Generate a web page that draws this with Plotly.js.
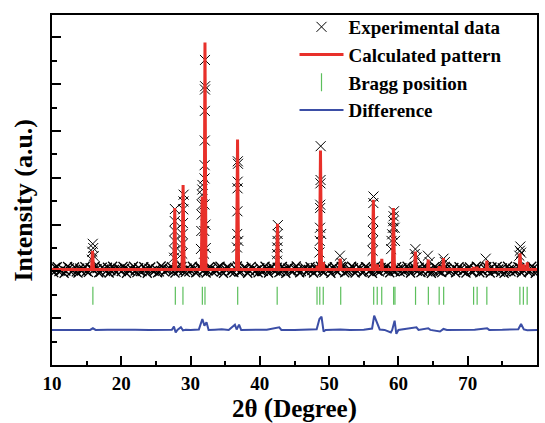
<!DOCTYPE html>
<html>
<head>
<meta charset="utf-8">
<script src="https://cdn.plot.ly/plotly-3.0.1.min.js"></script>
<style>html,body{margin:0;padding:0;background:#fff;}#chart{width:545px;height:423px;}</style>
</head>
<body>
<div id="chart"></div>
<script>
// ---- Experimental data: peak points (X markers) ----
const expPeakX = [15.75,15.82,15.88,15.95,16.02,
  27.62,27.66,27.68,27.70,27.72,27.74,
  28.80,28.84,28.86,28.90,28.94,28.97,29.00,
  31.50,31.55,31.60,31.63,31.66,31.70,31.72,
  31.95,31.98,32.00,32.02,32.03,32.05,32.06,32.08,32.10,32.08,32.15,32.20,
  36.70,36.73,36.76,36.78,36.80,36.82,36.84,36.90,
  42.48,42.50,42.52,42.55,42.57,42.60,
  48.60,48.65,48.68,48.70,48.72,48.74,48.76,48.78,48.85,
  51.55,51.80,
  56.28,56.30,56.33,56.35,56.38,56.40,
  58.95,59.00,59.10,59.20,59.25,59.30,59.35,59.45,59.50,
  62.35,62.45,62.60,
  64.25,64.50,
  66.50,66.70,
  72.60,
  77.45,77.52,77.60,77.70];
const expPeakY = [1250,1420,1590,1500,1330,
  1293,1441,1652,1864,2075,2333,
  1378,1588,1800,2032,2327,2496,2640,
  1480,1864,2215,2426,2640,2750,2848,
  1378,1864,2430,2987,3270,3797,4430,4887,4958,5519,2000,1500,
  1511,1800,2285,2776,2918,3354,3300,1652,
  1230,1371,1511,1652,1800,1990,
  1405,1652,1933,2354,2426,2882,2954,3677,1800,
  1336,1180,
  1441,1652,1864,2074,2461,2601,
  1477,1652,1793,1933,2074,2179,2285,1933,1652,
  1371,1477,1300,
  1336,1200,
  1272,1200,
  1272,
  1336,1441,1532,1400];

// ---- Experimental data: background, read every 0.5 degree from 10 to 80 (two interleaved rows) ----
const bgStart = 10, bgStep = 0.5;
const bgY = [1040,1085,995,1060,1010,1075,1020,990,1070,1045,1005,1080,1030,1060,985,1050,1090,1015,1040,1065,
  1000,1070,1035,1055,1010,1080,995,1045,1065,1020,1050,990,1075,1030,1060,1005,1085,1040,1015,1070,
  1025,1055,995,1080,1040,1010,1065,1035,1090,1000,1050,1075,1020,1060,985,1045,1070,1015,1055,1030,
  1080,1005,1050,1065,1025,1090,1000,1045,1070,1010,1060,1035,995,1075,1040,1020,1085,1050,1005,1065,
  1030,1070,1015,1055,1095,1000,1045,1080,1020,1060,990,1075,1035,1050,1010,1085,1040,1025,1065,1000,
  1055,1080,1015,1045,1070,1030,1090,1005,1060,1040,1020,1075,995,1050,1065,1010,1085,1035,1055,1025,
  1070,1000,1045,1080,1020,1060,1035,1095,1010,1050,1075,990,1040,1065,1015,1085,1030,1055,1005,1070,
  1045];
const bgY2 = [975,1100,1010,960,1105,990,1095,965,1010,1100,980,1060,1115,970,1090,1000,965,1110,985,1050,
  1105,960,1020,1110,975,1000,1100,960,1095,1005,970,1115,990,1040,1100,965,1010,1105,980,990,
  1110,970,1095,1005,965,1100,985,1020,1110,960,1090,1000,975,1115,990,1080,960,1105,995,970,
  1000,1110,965,1095,1010,975,1105,960,1090,1000,1115,970,1060,985,1100,965,1020,1110,980,1095,
  960,1100,990,1105,970,1015,1110,965,1095,980,1100,1000,960,1115,990,1045,1105,970,1010,1100,
  985,1000,1110,965,1095,1005,975,1115,990,960,1100,1010,975,1105,985,1040,970,1100,1010,965,
  1095,985,1110,970,1000,1100,965,1015,1105,980,960,1110,990,1000,1100,970,1095,985,1110,960];
const bgX = bgY.map((_, i) => bgStart + i * bgStep);
const bgX2 = bgY2.map((_, i) => bgStart + bgStep / 2 + i * bgStep);

// ---- Calculated pattern ----
const calcX = [10,
  15.70,15.85,16.00, 27.57,27.72,27.87, 28.77,28.92,29.07, 31.55,31.68,31.85, 31.95,32.08,32.22,
  36.63,36.78,36.93, 42.40,42.55,42.70, 48.18,48.30,48.42, 48.60,48.75,48.90, 49.05,49.15,49.25,
  51.47,51.60,51.73, 56.23,56.38,56.53, 56.85,56.95,57.05, 57.50,57.60,57.70, 59.13,59.28,59.43,
  62.32,62.45,62.58, 64.20,64.30,64.40, 65.80,65.90,66.00, 66.38,66.50,66.62, 70.77,70.85,70.93,
  71.27,71.35,71.43, 72.66,72.76,72.86, 77.42,77.55,77.68, 77.95,78.05,78.15, 78.50,78.60,78.70,
  80];
const calcY = [1040,
  1040,1441,1040, 1040,2354,1040, 1040,2848,1040, 1040,2600,1040, 1040,5892,1040,
  1040,3819,1040, 1040,2017,1040, 1040,1120,1040, 1040,3586,1040, 1040,1200,1040,
  1040,1272,1040, 1040,2532,1040, 1040,1150,1040, 1040,1270,1040, 1040,2354,1040,
  1040,1426,1040, 1040,1250,1040, 1040,1110,1040, 1040,1287,1040, 1040,1090,1040,
  1040,1100,1040, 1040,1230,1040, 1040,1384,1040, 1040,1150,1040, 1040,1194,1040,
  1040];

// ---- Bragg positions ----
const braggX = [15.9,27.8,28.9,31.7,32.08,36.8,42.5,48.25,48.65,49.15,51.67,56.43,56.94,57.59,
  59.31,59.5,62.47,64.32,65.88,66.53,70.85,71.36,72.76,77.53,78.03,78.58];
const braggLevel = 480;

// ---- Difference ----
const diffX = [10,12,14,15.5,15.9,16.3,18,20,22,24,26,27.3,27.6,27.85,28.1,28.6,28.9,29.3,30,31.2,
  31.7,32.0,32.3,32.6,33.5,34.5,35.5,36.4,36.65,37.0,37.3,39,41,42.8,43.1,45,47,48.2,48.6,48.9,
  49.2,49.5,51.6,53,55,56.2,56.5,56.9,57.3,58,58.9,59.1,59.45,59.7,60.0,62.6,62.9,64.3,64.6,66.0,
  66.5,67,69,71,72.8,73.1,75,77.3,77.7,78.1,78.6,80];
const diffY = [-250,-245,-255,-250,-215,-250,-248,-255,-248,-252,-250,-248,-180,-306,-250,-194,-260,-245,-250,-240,
  -18,-158,-88,-250,-245,-238,-250,-137,-240,-137,-250,-252,-248,-194,-250,-250,-245,-235,-18,31,
  -285,-250,-240,-250,-248,-220,53,-88,-240,-250,-306,-250,-53,-334,-250,-194,-250,-215,-250,-285,
  -229,-250,-250,-245,-215,-250,-248,-235,-123,-240,-255,-250];

const xTickVals = [10,20,30,40,50,60,70,80];

const serif = 'Liberation Serif, Times New Roman, serif';
const bgMarker = {symbol: 'x-thin-open', size: 9, color: '#000', line: {width: 1.3, color: '#000'}};

const traces = [
  {x: bgX, y: bgY, type: 'scatter', mode: 'markers', showlegend: false, hoverinfo: 'skip', marker: bgMarker},
  {x: bgX2, y: bgY2, type: 'scatter', mode: 'markers', showlegend: false, hoverinfo: 'skip', marker: bgMarker},
  {x: expPeakX, y: expPeakY, type: 'scatter', mode: 'markers', name: 'Experimental data',
   marker: {symbol: 'x-thin-open', size: 10, color: '#000', line: {width: 1, color: '#000'}}},
  {x: calcX, y: calcY, type: 'scatter', mode: 'lines', name: 'Calculated pattern',
   line: {color: '#e8302a', width: 3}},
  {x: braggX, y: braggX.map(() => braggLevel), type: 'scatter', mode: 'markers', name: 'Bragg position',
   marker: {symbol: 'line-ns-open', size: 13, color: '#5cbf5c', line: {width: 1.2, color: '#5cbf5c'}}},
  {x: diffX, y: diffY, type: 'scatter', mode: 'lines', name: 'Difference',
   line: {color: '#3b4ea6', width: 2}}
];

const layout = {
  width: 545, height: 423,
  margin: {l: 52, r: 8, t: 11, b: 58},
  paper_bgcolor: '#fff', plot_bgcolor: '#fff',
  font: {family: serif, color: '#000', weight: 'bold'},
  showlegend: true,
  legend: {x: 0.5, y: 1.02, xanchor: 'left', yanchor: 'top', bgcolor: 'rgba(0,0,0,0)',
    font: {family: serif, size: 19, color: '#000', weight: 'bold'}, tracegroupgap: 0, itemwidth: 44},
  xaxis: {
    range: [10, 80], tickmode: 'array', tickvals: xTickVals, ticktext: xTickVals.map(String),
    ticks: 'inside', ticklen: 9, tickwidth: 2, tickcolor: '#000',
    minor: {dtick: 5, tick0: 15, ticks: 'inside', ticklen: 4.5, tickwidth: 2, tickcolor: '#000'},
    showline: true, linecolor: '#000', linewidth: 2, mirror: true, showgrid: false, zeroline: false,
    tickfont: {family: serif, size: 19, color: '#000', weight: 'bold'},
    title: {text: '2θ <span style="font-size:28px">(</span>Degree<span style="font-size:28px">)</span>', font: {family: serif, size: 25, color: '#000', weight: 'bold'}, standoff: 10}
  },
  yaxis: {
    range: [-1000, 6480], dtick: 1000, tick0: 0, showticklabels: false,
    ticks: 'inside', ticklen: 9, tickwidth: 2, tickcolor: '#000',
    minor: {dtick: 500, ticks: 'inside', ticklen: 5, tickwidth: 2, tickcolor: '#000'},
    showline: true, linecolor: '#000', linewidth: 2, mirror: true, showgrid: false, zeroline: false
  },
  annotations: [{
    text: 'Intensity (a.u.)', xref: 'paper', yref: 'paper', x: 0, y: 0.47, xanchor: 'center', yanchor: 'middle',
    xshift: -29, textangle: -90, showarrow: false,
    font: {family: serif, size: 26, color: '#000', weight: 'bold'}
  }]
};

Plotly.newPlot('chart', traces, layout, {displayModeBar: false, staticPlot: true});
</script>
</body>
</html>
